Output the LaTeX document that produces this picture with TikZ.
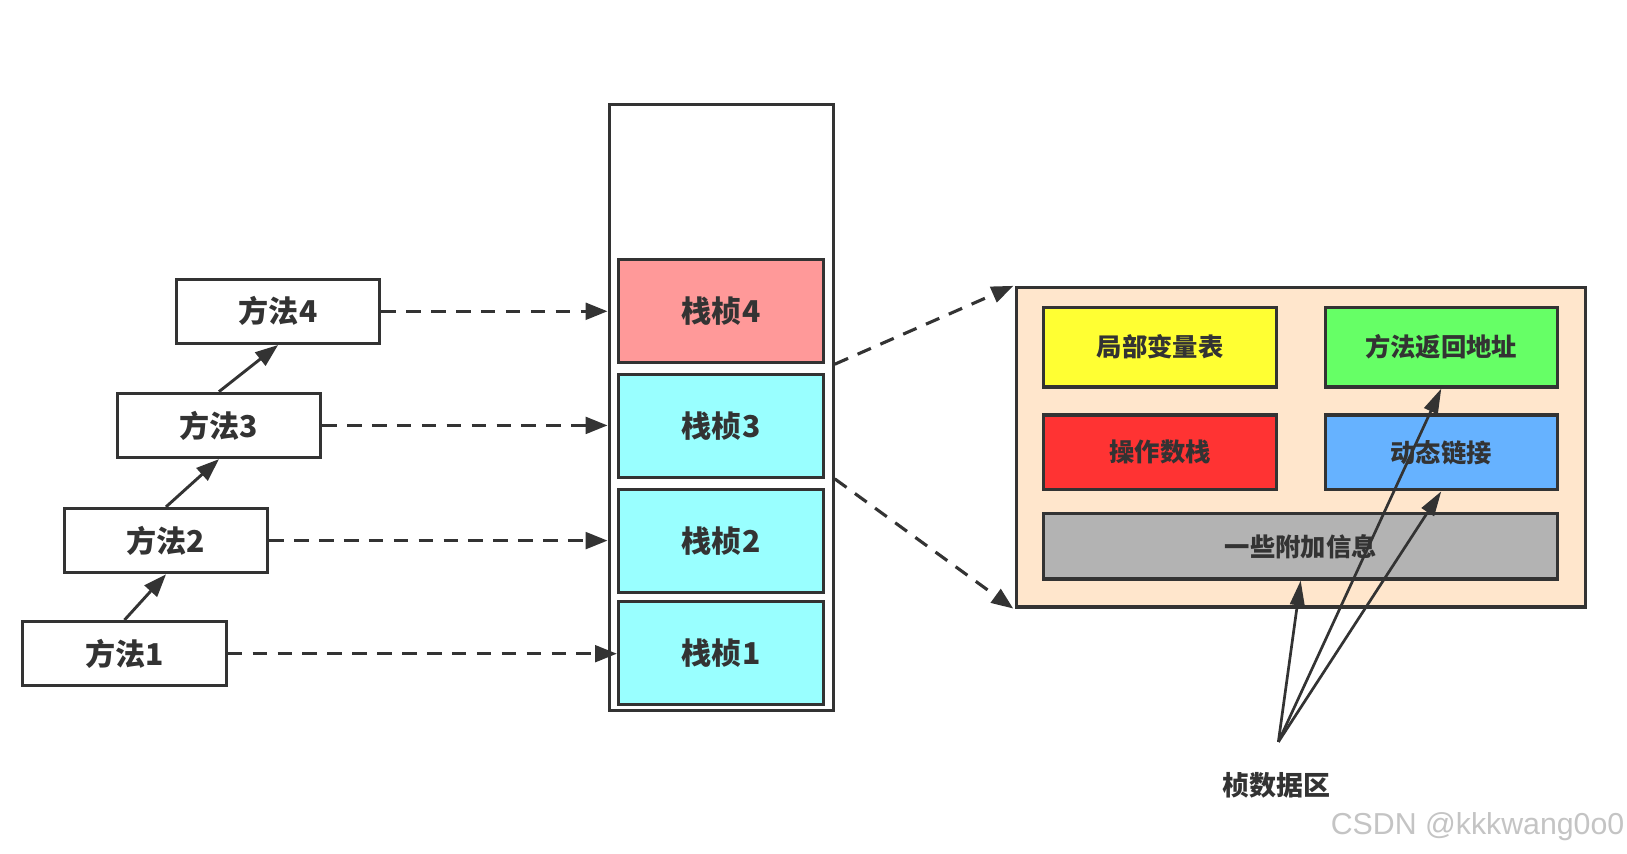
\documentclass[tikz,border=0pt]{standalone}
\usepackage{fontspec}
\newfontfamily\cjk{Noto Sans CJK SC}
\newfontfamily\wmfont{Liberation Sans}
\usetikzlibrary{arrows.meta}
\definecolor{dark}{HTML}{333333}
\definecolor{pinkf}{HTML}{FF9999}
\definecolor{cyanf}{HTML}{99FFFF}
\definecolor{peach}{HTML}{FFE6CC}
\definecolor{yel}{HTML}{FFFF33}
\definecolor{grn}{HTML}{66FF66}
\definecolor{redf}{HTML}{FF3333}
\definecolor{bluf}{HTML}{66B2FF}
\definecolor{gryf}{HTML}{B3B3B3}
\definecolor{wmgray}{HTML}{C4C4C4}
\tikzset{
  box/.style={draw=dark, line width=1.5pt, inner sep=0pt, text=dark},
  mbox/.style={box, fill=white, minimum width=98pt, minimum height=31pt,
    font=\cjk\bfseries\fontsize{14.5pt}{16pt}\selectfont},
  fbox/.style={box, minimum width=99pt, minimum height=49.5pt,
    font=\cjk\bfseries\fontsize{14.5pt}{16pt}\selectfont},
  ibox/.style={box, minimum width=112pt,
    font=\cjk\bfseries\fontsize{12.2pt}{14pt}\selectfont},
  solidarrow/.style={draw=dark, line width=1.4pt, -{Triangle[length=11pt,width=8pt]}},
  dasharrow/.style={draw=dark, line width=1.5pt, dash pattern=on 7pt off 5pt,
    -{Triangle[length=10.5pt,width=8pt]}},
  dataarrow/.style={draw=dark, line width=1.3pt, -{Triangle[length=12pt,width=7pt]}}
}
\begin{document}
\begin{tikzpicture}[x=0.5pt,y=-0.5pt]
\useasboundingbox[fill=white] (0,0) rectangle (1568,823);

% methods
\node[mbox] (m4) at (268,300) {\raisebox{-1pt}{方法4}};
\node[mbox] (m3) at (211,410) {\raisebox{-1pt}{方法3}};
\node[mbox] (m2) at (160,521) {\raisebox{-1pt}{方法2}};
\node[mbox] (m1) at (120,630) {\raisebox{-1pt}{方法1}};

\draw[solidarrow] (m1.north) -- (m2.south);
\draw[solidarrow] (m2.north) -- (m3.south);
\draw[solidarrow] (m3.north) -- (m4.south);

% stack
\node[box, fill=white, minimum width=108pt, minimum height=292pt] (stack) at (695,393) {};
\node[fbox, fill=pinkf] (f4) at (695,300) {\raisebox{-1pt}{栈桢4}};
\node[fbox, fill=cyanf] (f3) at (695,410.5) {\raisebox{-1pt}{栈桢3}};
\node[fbox, fill=cyanf] (f2) at (695,521.5) {\raisebox{-1pt}{栈桢2}};
\node[fbox, fill=cyanf] (f1) at (695,629.5) {\raisebox{-1pt}{栈桢1}};

\draw[dasharrow] (m4.east) -- (m4.east -| stack.west);
\draw[dasharrow] (m3.east) -- (m3.east -| stack.west);
\draw[dasharrow] (m2.east) -- (m2.east -| stack.west);
\draw[dasharrow] (m1.east) -- (m1.east -| f1.west);

% detail
\node[box, fill=peach, minimum width=274pt, minimum height=154pt] (detail) at (1254,431) {};
\coordinate (d1) at ([xshift=-1pt]detail.north west);
\coordinate (d2) at ([xshift=-1pt]detail.south west);
\draw[dasharrow] (stack.east |- f4.south) -- (d1);
\draw[dasharrow] (stack.east |- f3.south) -- (d2);

\node[ibox, fill=yel, minimum height=38.5pt] (lv) at (1118,334.5) {\raisebox{-1pt}{局部变量表}};
\node[ibox, fill=grn, minimum height=38.5pt] (ra) at (1389,334.5) {\raisebox{-1pt}{方法返回地址}};
\node[ibox, fill=redf, minimum height=36pt] (os) at (1118,436) {\raisebox{-1pt}{操作数栈}};
\node[ibox, fill=bluf, minimum height=36pt] (dl) at (1389,436) {\raisebox{-1pt}{动态链接}};
\node[ibox, fill=gryf, minimum width=247.5pt, minimum height=31.5pt] (ex) at (1253.5,526.5) {\raisebox{-1pt}{一些附加信息}};

% frame data label
\node[text=dark, font=\cjk\bfseries\fontsize{13pt}{15pt}\selectfont] (lbl) at (1230,757) {桢数据区};
\coordinate (src) at (1232,715);
\draw[dataarrow] (src) -- (ex.south);
\draw[dataarrow] (src) -- (ra.south);
\draw[dataarrow] (src) -- (dl.south);

% watermark
\node[text=wmgray, font=\wmfont\fontsize{14.6pt}{16pt}\selectfont] (wm) at (1424,797) {CSDN @kkkwang0o0};
\end{tikzpicture}
\end{document}
